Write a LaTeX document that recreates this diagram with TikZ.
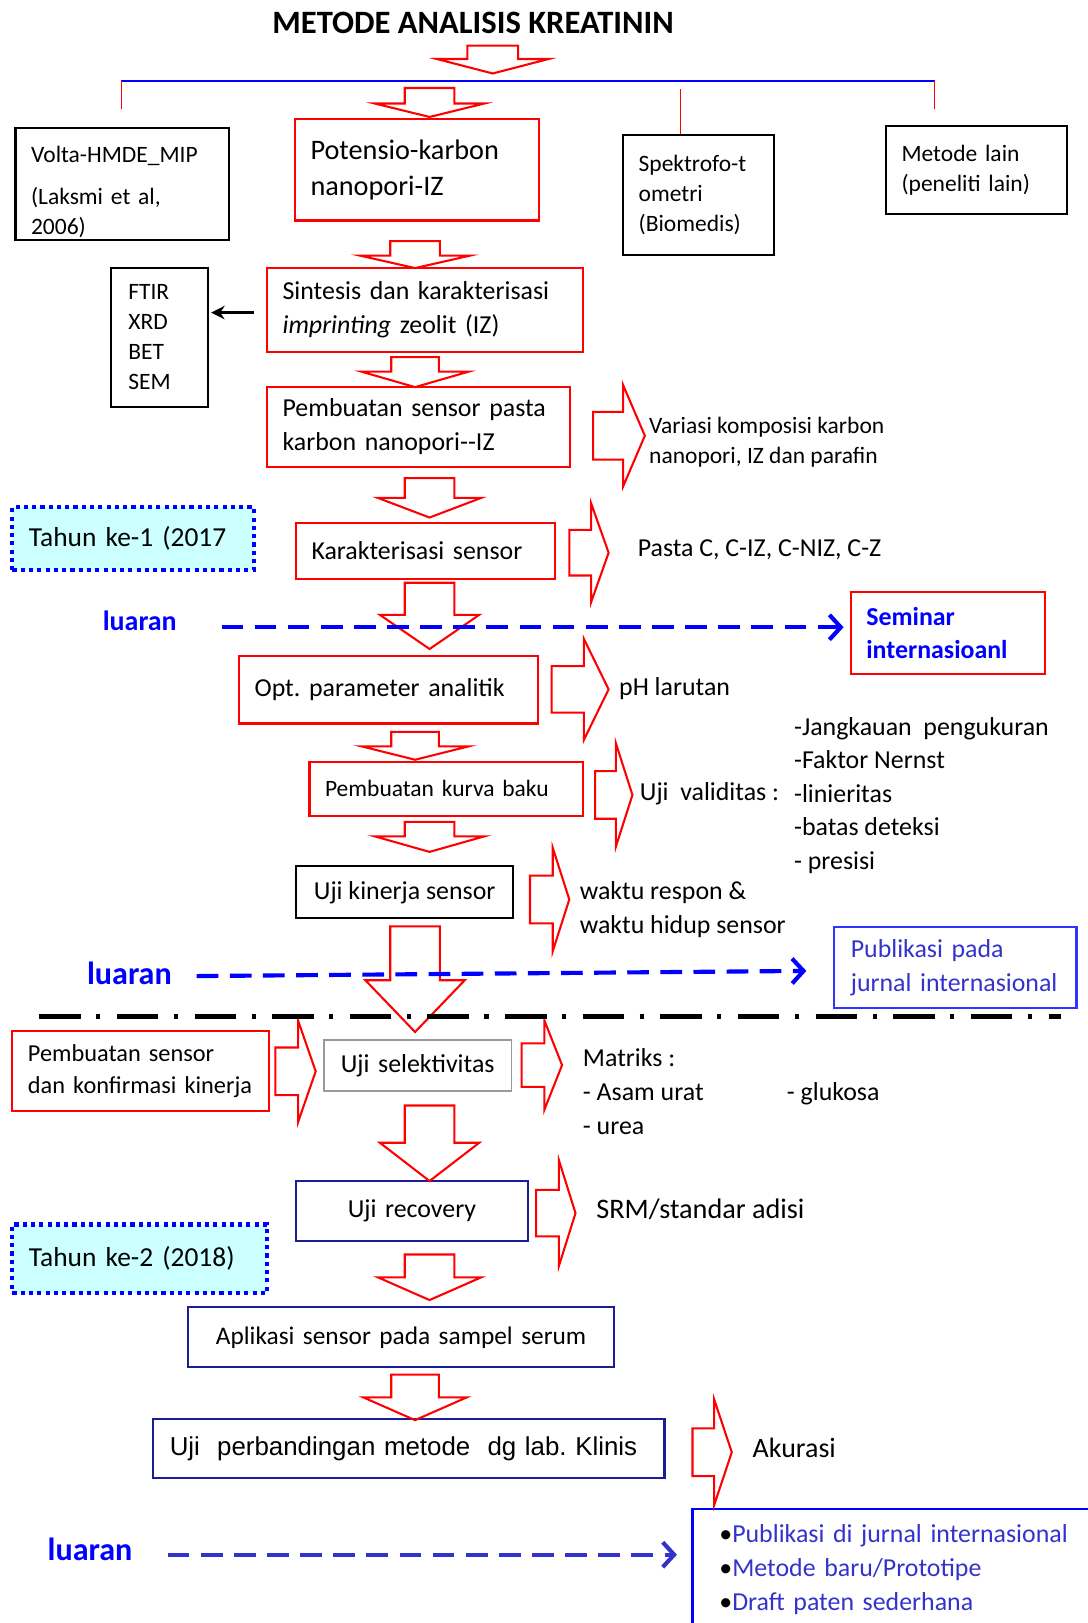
\documentclass[tikz,border=0pt]{standalone}
\usepackage{fontspec}
\setmainfont{Carlito}
\newfontfamily\arialfont{Liberation Sans}
\usetikzlibrary{arrows.meta}
\definecolor{merah}{HTML}{FF0000}
\definecolor{biru}{HTML}{0000FF}
\definecolor{birutua}{HTML}{1C1C96}
\definecolor{biruteks}{HTML}{3333CC}
\definecolor{abu}{HTML}{9A9A9A}
\definecolor{cyanmuda}{HTML}{CCFFFF}
\frenchspacing

% panah blok ke bawah: x tengah, atas, leher, ujung, setengah batang, setengah kepala
\newcommand{\panahturun}[6]{%
  \draw[blokpanah] (#1-#5,#2) -- (#1+#5,#2) -- (#1+#5,#3) -- (#1+#6,#3)
    -- (#1,#4) -- (#1-#6,#3) -- (#1-#5,#3) -- cycle;}
% panah blok ke kanan: kiri, leher, ujung, y tengah, setengah batang, setengah kepala
\newcommand{\panahkanan}[6]{%
  \draw[blokpanah] (#1,#4-#5) -- (#2,#4-#5) -- (#2,#4-#6) -- (#3,#4)
    -- (#2,#4+#6) -- (#2,#4+#5) -- (#1,#4+#5) -- cycle;}

\begin{document}
\begin{tikzpicture}[x=1pt, y=-1pt,
  kotak/.style={draw, line width=2pt, inner xsep=15pt, inner ysep=0pt, align=left,
    font=\fontsize{25}{33}\selectfont},
  kecil/.style={font=\fontsize{22.7}{29}\selectfont},
  teks/.style={anchor=west, align=left, inner sep=0pt, font=\fontsize{25}{33}\selectfont},
  luaran/.style={text=biru, font=\fontsize{31}{36}\selectfont\bfseries},
  blokpanah/.style={draw=merah, line width=2pt, line join=miter},
  putus/.style={line width=4pt, dash pattern=on 21pt off 11pt,
    -{Straight Barb[length=11pt, width=24pt, line width=4pt]}},
  tahun/.style={kotak, draw=biru, fill=cyanmuda, line width=4pt, dash pattern=on 4pt off 4pt,
    font=\fontsize{26.5}{33}\selectfont}]
  \useasboundingbox (0,0) rectangle (1051,1568);

  % Judul
  \node[font=\fontsize{31.5}{36}\selectfont\bfseries] (judul) at (457,22) {METODE ANALISIS KREATININ};

  % Metode
  \node[kotak, kecil, text width=176pt, minimum height=108pt] (volta) at (118,178)
    {\rule{0pt}{31pt}Volta-HMDE\_MIP\\[12pt](Laksmi et al,\\2006)};
  \node[kotak, draw=merah, text width=206pt, minimum height=98pt,
    font=\fontsize{27.3}{35}\selectfont] (potensio) at (403,164) {Potensio-karbon\\nanopori-IZ};
  \node[kotak, kecil, text width=116pt, minimum height=116pt] (spektro) at (675,188)
    {Spektrofo-t\\ometri\\(Biomedis)};
  \node[kotak, kecil, text width=145pt, minimum height=85pt] (lain) at (943.5,164.5)
    {Metode lain\\(peneliti lain)};

  \draw[biru, line width=2pt] (117,78) -- (903,78);
  \draw[merah, line width=1pt] (117,78) -- (117,105);
  \draw[merah, line width=1pt] (903,78) -- (903,105);
  \coordinate (cabang) at (657,86);
  \draw[merah, line width=1pt] (cabang) -- (cabang |- spektro.north);

  % Tahun ke-1
  \node[kotak, kecil, inner xsep=17pt, text width=60pt, minimum height=134pt] (ftir) at (154,326)
    {FTIR\\XRD\\BET\\SEM};
  \node[kotak, draw=merah, text width=275pt, minimum height=81pt] (sintesis) at (410.5,299.5)
    {Sintesis dan karakterisasi\\\textit{imprinting} zeolit (IZ)};
  \node[kotak, draw=merah, text width=263pt, minimum height=77pt] (pasta) at (404.5,412.5)
    {Pembuatan sensor pasta\\karbon nanopori-{}-IZ};
  \node[teks, kecil] (variasi) at (627,427.5) {Variasi komposisi karbon\\nanopori, IZ dan parafin};
  \node[tahun, inner xsep=16pt, text width=201pt, minimum height=61pt] (tahun1) at (128.5,520.5)
    {Tahun ke-1 (2017};
  \node[kotak, draw=merah, text width=220pt, minimum height=54pt] (karakter) at (411,532)
    {Karakterisasi sensor};
  \node[teks] (pastac) at (616,531) {Pasta C, C-IZ, C-NIZ, C-Z};
  \node[luaran, font=\fontsize{27}{33}\selectfont\bfseries] (luaran1) at (135,600) {luaran};
  \node[kotak, draw=merah, text width=158pt, minimum height=79pt, text=biru,
    font=\fontsize{25}{32}\selectfont\bfseries] (seminar) at (916,611.5) {Seminar\\internasioanl};
  \node[kotak, draw=merah, text width=259pt, minimum height=65pt] (opt) at (375.5,666.5)
    {Opt. parameter analitik};
  \node[teks] (ph) at (598,665) {pH larutan};
  \node[kotak, kecil, draw=merah, text width=234pt, minimum height=52pt] (kurva) at (431,762)
    {Pembuatan kurva baku};
  \node[teks] (uji) at (618,767) {Uji~~validitas :};
  \node[teks, font=\fontsize{25}{32.3}\selectfont] (validitas) at (767,768.5)
    {-Jangkauan~~pengukuran\\-Faktor Nernst\\-linieritas\\-batas deteksi\\- presisi};
  \node[kotak, inner xsep=0pt, minimum width=210pt, minimum height=50pt] (kinerja) at (391,862)
    {Uji kinerja sensor};
  \node[teks] (waktu) at (560,878.5) {waktu respon \&\\waktu hidup sensor};
  \node[luaran] (luaran2) at (125,940) {luaran};
  \node[kotak, draw=biru!80, inner xsep=16pt, text width=202pt, minimum height=78pt, text=biruteks]
    (publikasi) at (923,935) {Publikasi pada\\jurnal internasional};

  % Tahun ke-2
  \node[kotak, draw=merah, text width=218pt, minimum height=77pt,
    font=\fontsize{23.5}{31}\selectfont] (konfirmasi) at (136,1034.5)
    {Pembuatan sensor\\dan konfirmasi kinerja};
  \node[kotak, draw=abu, line width=1.5pt, align=center, text width=151pt, minimum height=49pt]
    (selektif) at (403.5,1029.5) {Uji selektivitas};
  \node[teks, font=\fontsize{25}{32.5}\selectfont] (matriks) at (563,1054.5)
    {Matriks :\\\makebox[197pt][l]{- Asam urat}- glukosa\\- urea};
  \node[kotak, draw=birutua, align=center, text width=194pt, minimum height=58pt] (recovery)
    at (398,1170) {Uji recovery};
  \node[teks, font=\fontsize{27.3}{33}\selectfont] (srm) at (576,1168) {SRM/standar adisi};
  \node[tahun, inner xsep=16pt, text width=214pt, minimum height=66pt] (tahun2) at (135,1216)
    {Tahun ke-2 (2018)};
  \node[kotak, draw=birutua, align=center, text width=381pt, minimum height=58pt,
    font=\fontsize{24.5}{33}\selectfont] (aplikasi) at (387.5,1292) {Aplikasi sensor pada sampel serum};
  \node[kotak, draw=birutua, inner xsep=16pt, text width=462pt, minimum height=57pt,
    font=\arialfont\fontsize{25}{33}\selectfont] (banding) at (395,1399.5)
    {Uji~~perbandingan metode~~dg lab. Klinis};
  \node[teks, font=\fontsize{27}{33}\selectfont] (akurasi) at (727,1399) {Akurasi};
  \node[luaran] (luaran3) at (87,1497) {luaran};
  \node[kotak, draw=biru, inner xsep=26pt, text width=388pt, minimum height=117pt, text=biruteks,
    font=\fontsize{25}{32.5}\selectfont] (akhir) at (889,1516.5)
    {{\color{black}•}Publikasi di jurnal internasional\\{\color{black}•}Metode baru/Prototipe\\
     {\color{black}•}Draft paten sederhana};

  % Panah blok
  \panahturun{476}{44}{57}{71}{24.5}{54}
  \panahturun{415}{85}{100}{113}{24}{53}
  \panahturun{401}{233}{247}{259}{24}{53}
  \panahturun{401}{345}{359}{374}{23}{52}
  \panahturun{415}{462}{481}{500}{24}{50}
  \panahturun{415}{563}{594}{627}{24}{48}
  \panahturun{401}{707}{721}{734}{23}{52}
  \panahturun{415}{794}{808}{823}{24}{53}
  \panahturun{401}{895}{947}{997}{24}{48}
  \panahturun{415}{1068}{1104}{1141}{24}{48}
  \panahturun{415}{1212}{1234}{1256}{24}{50}
  \panahturun{401}{1328}{1350}{1372}{23}{50}
  \panahkanan{573}{602}{623}{421}{23}{49}
  \panahkanan{550}{571}{588}{534}{22}{48}
  \panahkanan{533}{564}{588}{666}{22.5}{49}
  \panahkanan{575}{595}{611}{768}{23}{50}
  \panahkanan{512}{534}{550}{869}{23}{50}
  \panahkanan{266}{288}{305}{1035}{23}{49}
  \panahkanan{504}{526}{543}{1029}{21}{43}
  \panahkanan{518}{540}{556}{1172}{22.5}{51}
  \panahkanan{669}{690}{707}{1403}{23}{51}

  % Karakterisasi
  \coordinate (s0) at (245,302);
  \draw[-{Stealth[length=13pt, width=13pt]}, line width=2.5pt, shorten >=2pt] (s0) -- (s0 -| ftir.east);

  % Luaran
  \coordinate (l1) at (214,606);
  \coordinate (l2) at (190,943);
  \coordinate (l3) at (162,1502);
  \draw[putus, biru, shorten >=6pt] (l1) -- (l1 -| seminar.west);
  \draw[putus, biru] (l2) -- ([xshift=-26pt, yshift=-3pt]publikasi.west);
  \draw[putus, biruteks, shorten >=14pt] (l3) -- (l3 -| akhir.west);

  % Batas tahun
  \draw[line width=5pt, dash pattern=on 40pt off 15pt on 4pt off 16pt] (38,982) -- (1025,982);
\end{tikzpicture}
\end{document}
